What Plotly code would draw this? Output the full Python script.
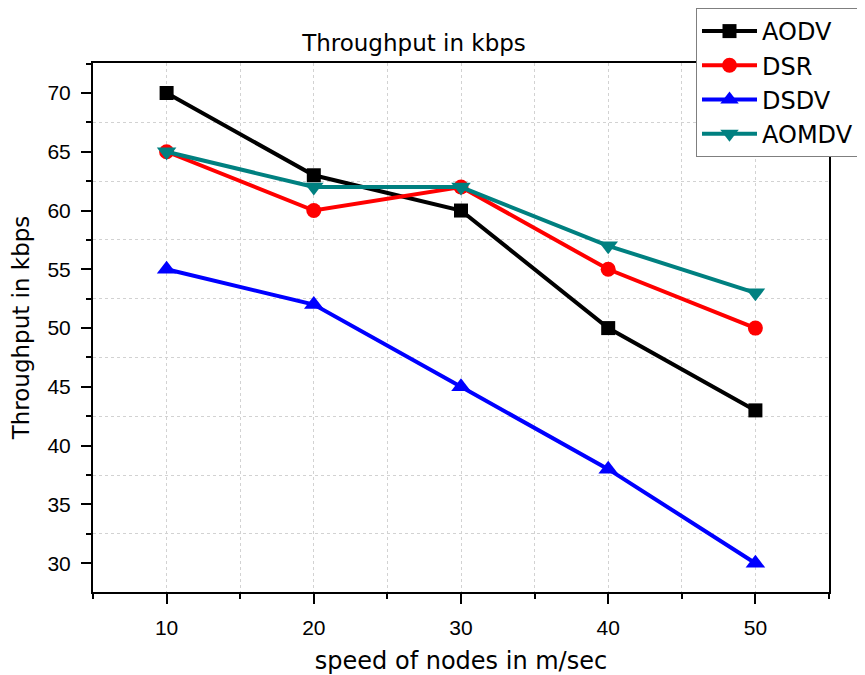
import plotly.graph_objects as go

speed = [10, 20, 30, 40, 50]
aodv = [70, 63, 60, 50, 43]
dsr = [65, 60, 62, 55, 50]
dsdv = [55, 52, 45, 38, 30]
aomdv = [65, 62, 62, 57, 53]

series = [
    ("AODV", aodv, "#000000", "square", 14),
    ("DSR", dsr, "#ff0000", "circle", 15),
    ("DSDV", dsdv, "#0000ff", "triangle-up", 17),
    ("AOMDV", aomdv, "#008080", "triangle-down", 17),
]

TITLE_FONT = "DejaVu Sans"
TICK_FONT = "Liberation Sans"

# page body has an 8px margin, so the figure is 8px smaller and shifted
W, H = 857, 667
L, T, R, B = 85, 55, 36, 83
PW, PH = W - L - R, H - T - B

fig = go.Figure()
for name, vals, color, sym, sz in series:
    fig.add_trace(go.Scatter(
        x=speed, y=vals, name=name, mode="lines+markers",
        line=dict(color=color, width=4),
        marker=dict(symbol=sym, size=sz, color=color),
    ))

xr = [5, 55]
yr = [27.55, 72.55]
grid = dict(showgrid=True, gridcolor="#d2d2d2", griddash="dot", gridwidth=1)

fig.update_layout(
    width=W, height=H,
    paper_bgcolor="white", plot_bgcolor="white",
    margin=dict(l=L, r=R, t=T, b=B, autoexpand=False),
    title=dict(text="Throughput in kbps", x=406 / W, xref="container", xanchor="center",
               y=1 - 35 / H, yref="container", yanchor="middle",
               font=dict(family=TITLE_FONT, size=23, color="black")),
    xaxis=dict(range=xr, tickvals=speed, ticks="outside", ticklen=10, tickwidth=2,
               tickcolor="black", showline=True, linecolor="black", linewidth=2, mirror=True,
               showgrid=False, zeroline=False, ticklabelstandoff=6,
               tickfont=dict(family=TICK_FONT, size=21, color="black"),
               minor=dict(dtick=5, tick0=5, ticks="outside", ticklen=5, tickwidth=2,
                          tickcolor="black", **grid),
               title=dict(text="speed of nodes in m/sec", standoff=20,
                          font=dict(family=TITLE_FONT, size=24, color="black"))),
    yaxis=dict(range=yr, dtick=5, tick0=30, ticks="outside", ticklen=10, tickwidth=2,
               tickcolor="black", showline=True, linecolor="black", linewidth=2, mirror=True,
               showgrid=False, zeroline=False, ticklabelstandoff=6,
               tickfont=dict(family=TICK_FONT, size=21, color="black"),
               minor=dict(dtick=2.5, tick0=27.5, ticks="outside", ticklen=5, tickwidth=2,
                          tickcolor="black", **grid),
               title=dict(text="Throughput in kbps", standoff=14,
                          font=dict(family=TITLE_FONT, size=23, color="black"))),
    xaxis2=dict(range=xr, overlaying="x", side="top", anchor="y", dtick=5, tick0=5,
                ticks="inside", ticklen=11, tickwidth=2, tickcolor="black",
                showticklabels=False, showgrid=False, zeroline=False, showline=False),
    yaxis2=dict(range=yr, overlaying="y", side="right", anchor="x", dtick=2.5, tick0=27.5,
                ticks="inside", ticklen=11, tickwidth=2, tickcolor="black",
                showticklabels=False, showgrid=False, zeroline=False, showline=False),
    legend=dict(x=(688 - L) / PW, y=(PH + T) / PH,
                xanchor="left", yanchor="top", bgcolor="white",
                bordercolor="#7f7f7f", borderwidth=1, itemwidth=55,
                font=dict(family=TITLE_FONT, size=24, color="black"), tracegroupgap=0),
    showlegend=True,
)

fig.write_html("out.html")
